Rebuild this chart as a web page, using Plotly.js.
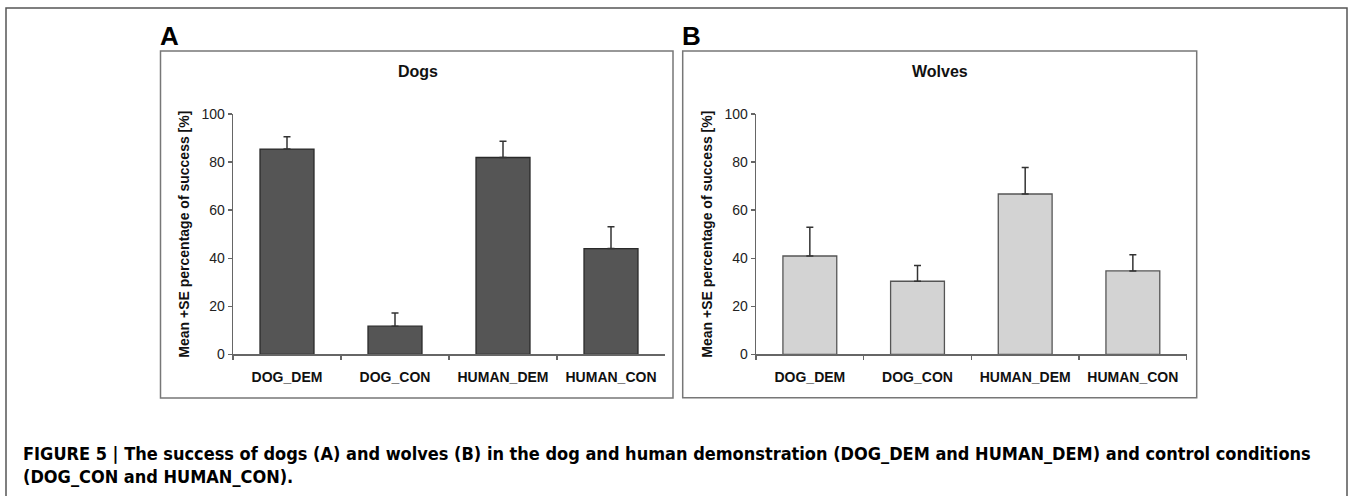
<!DOCTYPE html>
<html>
<head>
<meta charset="utf-8">
<script src="https://cdn.plot.ly/plotly-3.0.1.min.js"></script>
<style>html,body{margin:0;padding:0;background:#fff;}#chart{width:1350px;height:496px;}</style>
</head>
<body>
<div id="chart"></div>
<script>
// ---- data ----
const categories = ['DOG_DEM', 'DOG_CON', 'HUMAN_DEM', 'HUMAN_CON'];
const dogsMean = [85.4, 11.7, 81.9, 44.0];
const dogsSE = [5.1, 5.5, 6.8, 9.1];
const wolvesMean = [40.9, 30.4, 66.7, 34.7];
const wolvesSE = [12.0, 6.6, 11.0, 6.7];
const yTicks = [0, 20, 40, 60, 80, 100];
const panelTitles = ['Dogs', 'Wolves'];
const panelLetters = ['A', 'B'];
const yTitle = 'Mean +SE percentage of success [%]';
const captionText = 'FIGURE 5 | The success of dogs (A) and wolves (B) in the dog and human demonstration (DOG_DEM and HUMAN_DEM) and control conditions<br>(DOG_CON and HUMAN_CON).';

// ---- helpers (pixel -> paper) ----
const W = 1350, H = 496;
const px = x => x / W;
const py = y => 1 - y / H;
const FONT = '"Liberation Sans", Arial, sans-serif';
const zeros = categories.map(() => 0);

function barTrace(vals, errs, fill, line, xa, ya) {
  return {
    type: 'bar', x: categories, y: vals, xaxis: xa, yaxis: ya,
    width: 0.5,
    marker: {color: fill, line: {color: line, width: 1.3}},
    error_y: {type: 'data', array: errs, arrayminus: zeros, symmetric: false,
              color: '#333', thickness: 1.5, width: 3.5},
    showlegend: false, hoverinfo: 'skip'
  };
}

const data = [
  barTrace(dogsMean, dogsSE, '#555555', '#2a2a2a', 'x', 'y'),
  barTrace(wolvesMean, wolvesSE, '#d3d3d3', '#555555', 'x2', 'y2')
];

function xAxis(dom, anchor) {
  return {
    domain: dom, anchor: anchor, type: 'category',
    showline: true, linecolor: '#666', linewidth: 1.3,
    ticks: 'outside', tickson: 'boundaries', ticklen: 4, tickcolor: '#666', tickwidth: 1.3,
    ticklabelstandoff: 10,
    showgrid: false, zeroline: false,
    tickfont: {family: FONT, size: 14, color: '#111', weight: 'bold'},
    fixedrange: true
  };
}
function yAxis(dom, anchor) {
  return {
    domain: dom, anchor: anchor, range: [0, 100], tickvals: yTicks,
    showline: true, linecolor: '#666', linewidth: 1.3,
    ticks: 'outside', ticklen: 4, tickcolor: '#666', tickwidth: 1.3,
    showgrid: false, zeroline: false,
    tickfont: {family: FONT, size: 14, color: '#222'},
    title: {text: yTitle, font: {family: FONT, size: 14, color: '#111', weight: 'bold'}, standoff: 8},
    fixedrange: true
  };
}

const yDom = [py(354.3), py(114)];
const layout = {
  width: W, height: H,
  margin: {l: 0, r: 0, t: 0, b: 0},
  paper_bgcolor: '#fff', plot_bgcolor: 'rgba(0,0,0,0)',
  xaxis: xAxis([px(233), px(665)], 'y'),
  yaxis: yAxis(yDom, 'x'),
  xaxis2: xAxis([px(756), px(1186.7)], 'y2'),
  yaxis2: yAxis(yDom, 'x2'),
  shapes: [
    {type: 'rect', xref: 'paper', yref: 'paper', x0: px(6), x1: px(1347), y0: py(505), y1: py(8),
     line: {color: '#555', width: 1.5}, fillcolor: 'rgba(0,0,0,0)', layer: 'below'},
    {type: 'rect', xref: 'paper', yref: 'paper', x0: px(160.5), x1: px(673), y0: py(398), y1: py(51),
     line: {color: '#777', width: 1.5}, fillcolor: 'rgba(0,0,0,0)', layer: 'below'},
    {type: 'rect', xref: 'paper', yref: 'paper', x0: px(682.7), x1: px(1196.7), y0: py(397.7), y1: py(51),
     line: {color: '#777', width: 1.5}, fillcolor: 'rgba(0,0,0,0)', layer: 'below'}
  ],
  annotations: [
    {text: panelLetters[0], xref: 'paper', yref: 'paper', x: px(158), y: py(36), xanchor: 'left', yanchor: 'middle',
     showarrow: false, font: {family: FONT, size: 26, color: '#000', weight: 'bold'}},
    {text: panelLetters[1], xref: 'paper', yref: 'paper', x: px(679.5), y: py(36), xanchor: 'left', yanchor: 'middle',
     showarrow: false, font: {family: FONT, size: 26, color: '#000', weight: 'bold'}},
    {text: panelTitles[0], xref: 'paper', yref: 'paper', x: px(418), y: py(72), xanchor: 'center', yanchor: 'middle',
     showarrow: false, font: {family: FONT, size: 16, color: '#111', weight: 'bold'}},
    {text: panelTitles[1], xref: 'paper', yref: 'paper', x: px(940), y: py(72), xanchor: 'center', yanchor: 'middle',
     showarrow: false, font: {family: FONT, size: 16, color: '#111', weight: 'bold'}},
    {text: captionText, xref: 'paper', yref: 'paper', x: px(21), y: py(441), xanchor: 'left', yanchor: 'top',
     align: 'left', showarrow: false,
     font: {family: '"Liberation Sans Narrow", "DejaVu Sans Condensed", "Liberation Sans", sans-serif', size: 18, color: '#000', weight: 'bold'}}
  ]
};

Plotly.newPlot('chart', data, layout, {displayModeBar: false, staticPlot: true});
</script>
</body>
</html>
